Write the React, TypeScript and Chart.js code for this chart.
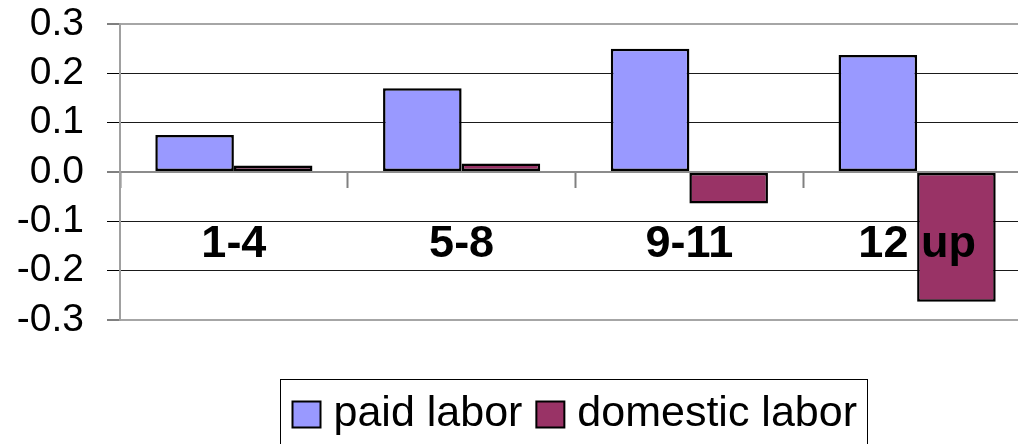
import React, { useEffect, useRef } from "react";
import { Chart, registerables } from "chart.js";

Chart.register(...registerables);

const categories = ["1-4", "5-8", "9-11", "12 up"];
const paidLabor = [0.075, 0.17, 0.25, 0.237];
const domesticLabor = [0.013, 0.017, -0.064, -0.263];
const seriesNames = ["paid labor", "domestic labor"];
const yMin = -0.3;
const yMax = 0.3;
const yStep = 0.1;

const FONT = '"Liberation Sans", Arial, Helvetica, sans-serif';
const PAID = "#9999FF";
const DOMESTIC = "#993366";

const boxedLegend = {
  id: "boxedLegend",
  afterDraw(chart: any) {
    const { ctx, chartArea } = chart;
    const size = 43;
    ctx.save();
    ctx.font = `${size}px ${FONT}`;
    const sq = 28;
    const sqH = 26;
    const gapText = 13;
    const gapItem = 14;
    const padL = 12;
    const padR = 11;
    const items = chart.data.datasets.map((ds: any) => ({
      label: ds.label,
      color: ds.backgroundColor,
      w: ctx.measureText(ds.label).width,
    }));
    let total = 0;
    items.forEach((it: any, i: number) => {
      total += sq + gapText + it.w + (i < items.length - 1 ? gapItem : 0);
    });
    const boxW = padL + total + padR;
    const cx = (chartArea.left + chartArea.right) / 2 - 2;
    const left = Math.round(cx - boxW / 2) + 0.5;
    const top = Math.round(chartArea.bottom + 59) + 0.5;
    ctx.strokeStyle = "#000";
    ctx.lineWidth = 1;
    ctx.strokeRect(left, top, Math.round(boxW), 140);
    const midY = top + 35;
    let x = left + padL;
    items.forEach((it: any) => {
      ctx.fillStyle = it.color;
      ctx.fillRect(x, midY - sqH / 2, sq, sqH);
      ctx.lineWidth = 2;
      ctx.strokeStyle = "#000";
      ctx.strokeRect(x, midY - sqH / 2, sq, sqH);
      x += sq + gapText;
      ctx.fillStyle = "#000";
      ctx.textBaseline = "middle";
      ctx.textAlign = "left";
      ctx.fillText(it.label, x, midY);
      x += it.w + gapItem;
    });
    ctx.restore();
  },
};

const isVal = (v: number, t: number) => Math.abs(v - t) < 1e-9;

export default function App() {
  const ref = useRef<HTMLCanvasElement | null>(null);

  useEffect(() => {
    if (!ref.current) return;
    const chart = new Chart(ref.current, {
      type: "bar",
      data: {
        labels: categories,
        datasets: [
          {
            label: seriesNames[0],
            data: paidLabor,
            backgroundColor: PAID,
            borderColor: "#000",
            borderWidth: 2.5,
            borderSkipped: false,
            categoryPercentage: 0.69,
            barPercentage: 1.0,
          },
          {
            label: seriesNames[1],
            data: domesticLabor,
            backgroundColor: DOMESTIC,
            borderColor: "#000",
            borderWidth: 2.5,
            borderSkipped: false,
            categoryPercentage: 0.69,
            barPercentage: 1.0,
          },
        ],
      },
      options: {
        responsive: false,
        maintainAspectRatio: false,
        animation: false,
        devicePixelRatio: 1,
        layout: { padding: { left: 0, right: 9, top: 24, bottom: 124 } },
        plugins: {
          legend: { display: false },
          tooltip: { enabled: false },
        },
        scales: {
          x: {
            type: "category",
            position: { y: 0 } as any,
            offset: true,
            grid: {
              offset: true,
              drawOnChartArea: false,
              drawTicks: true,
              tickLength: 16,
              tickColor: "#808080",
              tickWidth: 2,
            },
            border: { display: false },
            ticks: {
              z: 1,
              font: { family: FONT, size: 45, weight: "bold" },
              color: "#000",
              padding: 30,
              maxRotation: 0,
              autoSkip: false,
            },
          },
          y: {
            min: yMin,
            max: yMax,
            afterFit: (s: any) => {
              s.width = 120;
              s.paddingTop = 20;
              s.paddingBottom = 20;
            },
            grid: {
              color: (c: any) => {
                const v = c.tick ? c.tick.value : 0;
                if (isVal(v, 0)) return "#8c8c8c";
                if (isVal(v, yMax) || isVal(v, yMin)) return "#a6a6a6";
                return "#1a1a1a";
              },
              lineWidth: (c: any) => {
                const v = c.tick ? c.tick.value : 0;
                if (isVal(v, 0) || isVal(v, yMax) || isVal(v, yMin)) return 2;
                return 1;
              },
              tickColor: "#000",
              tickLength: 13,
              tickWidth: 1,
            },
            border: { display: true, color: "#a0a0a0", width: 2 },
            ticks: {
              stepSize: yStep,
              autoSkip: false,
              font: { family: FONT, size: 39 },
              color: "#000",
              padding: 23,
              callback: (v: any) => {
                const n = Number(v);
                if (Math.abs(n) < 1e-9) return "0.0";
                return n.toFixed(1);
              },
            },
          },
        },
      },
      plugins: [boxedLegend],
    });
    return () => chart.destroy();
  }, []);

  return (
    <div
      style={{
        position: "fixed",
        left: 0,
        top: 0,
        width: 1018,
        height: 444,
        overflow: "hidden",
        background: "#fff",
      }}
    >
      <canvas ref={ref} width={1040} height={444} style={{ display: "block" }} />
    </div>
  );
}
